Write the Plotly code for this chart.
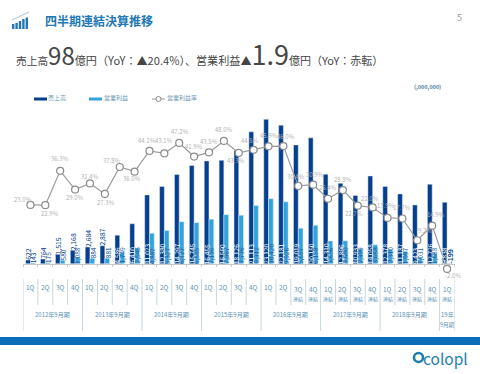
import plotly.graph_objects as go

FONT = "Noto Sans CJK JP"
W, H = 480, 374

quarters = ["1Q", "2Q", "3Q", "4Q"] * 7 + ["1Q"]
revenue = [622, 764, 1515, 2168, 2684, 2887, 4586, 6410, 11023, 12380, 14297, 15745, 16455, 16560,
           18126, 21113, 23120, 22181, 19019, 20150, 14310, 12896, 10933, 14058, 12378, 11187,
           9423, 12726, 9838]
op_profit = [143, 175, 580, 1088, 884, 881, 1749, 2545, 4887, 5327, 6727, 6585, 7135, 7867,
             7776, 9312, 10420, 9926, 5697, 6158, 3656, 3680, 2399, 3058, 2310, 1997,
             1031, 1688, -199]
op_margin = [23.0, 22.9, 36.3, 29.0, 31.4, 27.3, 37.8, 36.0, 44.1, 43.1, 47.2, 41.9, 43.5, 48.0,
             43.3, 44.5, 45.9, 46.0, 30.4, 30.9, 25.4, 28.8, 22.7, 22.0, 17.9, 17.7,
             9.2, 14.9, -2.0]
label_dx = [-7, 5, 0, 0, 0, 1, -8, -3, -2, 0, 1, 0, 0, 0, -3, -4, 0, 3, -2, 2, 0, 0, -4, -3, -2, 0, 8, 4, 6]
label_dy = [-5, 8, -12, 8, -7, 9, -7, 7, -10, -13, -11, -10, -11, -11, 8, -9, -11, -10, -9, -10, -11, -11, 8, -9, -12, -11, -10, -11, 7]
years = [("2012年9月期", 0, 4), ("2013年9月期", 4, 4), ("2014年9月期", 8, 4), ("2015年9月期", 12, 4),
         ("2016年9月期", 16, 4), ("2017年9月期", 20, 4), ("2018年9月期", 24, 4), ("19年", 28, 1)]
consolidated_from = 18

cats = list(range(len(revenue)))
DARK, LIGHT, TXT, LINE = "#053f8d", "#33a3dc", "#5d93b5", "#c7d6df"
fig = go.Figure()
fig.add_bar(x=cats, y=revenue, name="売上高", marker_color=DARK, yaxis="y")
fig.add_bar(x=cats, y=op_profit, name="営業利益", marker_color=LIGHT, yaxis="y")
fig.add_scatter(x=cats, y=op_margin, name="営業利益率", yaxis="y2", mode="lines+markers",
                line=dict(color="#9a9a9a", width=1.2),
                marker=dict(size=7, color="white", line=dict(color="#8c8c8c", width=1.2)),
                cliponaxis=False)

ann, shapes = [], []
def note(x, y, text, size=7, color=TXT, xref="paper", yref="paper", xanchor="center", yanchor="middle", **kw):
    ann.append(dict(x=x / W if xref == "paper" else x, y=1 - y / H if yref == "paper" else y, xref=xref, yref=yref,
                    xanchor=xanchor, yanchor=yanchor, borderpad=0, borderwidth=0,
                    text=text, showarrow=False, font=dict(size=size, color=color, family=FONT), **kw))
# value labels follow the data
for i, (r, p) in enumerate(zip(revenue, op_profit)):
    small = r < 3000
    note(i, r if small else 0, f"{r:,}", 6.8 if small else 6.5, DARK if small else "#ffffff", xref="x", yref="y",
         textangle=-90, yanchor="bottom", xshift=-2.5)
    if p < 0:
        note(i, 0, f"<b>{p:,}</b>", 6.8, DARK, xref="x", yref="y", textangle=-90, yanchor="bottom", xshift=3.5)
    else:
        small_p = p < 1000
        note(i, p if small_p else 0, f"{p:,}", 6.5, DARK if small_p else "#1d5d9b", xref="x", yref="y",
             textangle=-90, yanchor="bottom", xshift=2.5)
# margin labels follow the line
for i, v in enumerate(op_margin):
    note(i, v, f"{v:.1f}%", 6, "#b2b2b2", xref="x", yref="y2", xshift=label_dx[i], yshift=-label_dy[i])

# period table below the chart
T0, T1, T2 = 1 - 279 / H, 1 - 305 / H, 1 - 331 / H
def vline(b, ybot):
    shapes.append(dict(type="line", xref="x", yref="paper", x0=b, x1=b, y0=T0, y1=ybot, line=dict(color=LINE, width=1)))
for i, q in enumerate(quarters):
    if i >= consolidated_from:
        note(i, 288.7, q, 6.5, xref="x")
        note(i, 299, "連結", 5, xref="x")
    else:
        note(i, 287, q, 6.5, xref="x")
    if i % 4:
        vline(i - 0.5, T1)
for label, start, n in years:
    vline(start - 0.5, T2)
    note(start + (n - 1) / 2, 314, label, 6, xref="x")
note(28, 325, "9月期", 5.5, xref="x")
vline(28.5, T2)

def rect(x0, y0, x1, y1, color):
    shapes.append(dict(type="rect", xref="paper", yref="paper", x0=x0 / W, x1=x1 / W, y0=1 - y1 / H, y1=1 - y0 / H,
                       fillcolor=color, line_width=0, layer="below"))
rect(0, 337, W, 345, "#0b6dba")
# header icon
for k, top in enumerate([24, 23, 21, 19, 17.5]):
    rect(12 + k * 3.4, top, 14.4 + k * 3.4, 29, "#2377b5")
shapes.append(dict(type="line", xref="paper", yref="paper", x0=12 / W, x1=29 / W, y0=1 - 20 / H, y1=1 - 12 / H,
                   line=dict(color="#8fb6d2", width=0.8)))
note(45, 20.5, "<b>四半期連結決算推移</b>", 12, "#2278b5", xanchor="left")
note(459, 18, "5", 9, "#9a9a9a")
s = lambda t, z: f'<span style="font-size:{z}px">{t}</span>'
note(16, 53, s("売上高", 10.7) + s("98", 24) + s("億円（YoY：▲20.4%）、営業利益▲", 11.1) + s("1.9", 27) + s("億円（YoY：赤転）", 11),
     11, "#454545", xanchor="left")
note(427, 87.5, "<b>(,000,000)</b>", 5.5, "#4f83a5")
# manual legend
LEG = "#6f9bb8"
rect(34, 97.5, 47, 100.5, DARK)
note(48, 97.5, "売上高", 6, LEG, xanchor="left")
rect(89, 97.5, 102, 100.5, LIGHT)
note(104, 97.5, "営業利益", 6, LEG, xanchor="left")
shapes.append(dict(type="line", xref="paper", yref="paper", x0=152 / W, x1=165 / W, y0=1 - 99 / H, y1=1 - 99 / H,
                   line=dict(color="#9a9a9a", width=1)))
shapes.append(dict(type="circle", xref="paper", yref="paper", x0=156 / W, x1=161 / W, y0=1 - 101.5 / H, y1=1 - 96.5 / H,
                   fillcolor="white", line=dict(color="#8c8c8c", width=1)))
note(167, 97.5, "営業利益率", 6, LEG, xanchor="left")
# logo
note(423, 358, "colopl", 15.5, "#1f7fb0", xanchor="left")
shapes.append(dict(type="circle", xref="paper", yref="paper", x0=414 / W, x1=423 / W, y0=1 - 362 / H, y1=1 - 353 / H,
                   fillcolor="white", line=dict(color="#1f7fb0", width=2.6)))

fig.update_layout(
    width=W, height=H, margin=dict(l=0, r=0, t=0, b=0), autosize=False, paper_bgcolor="white", plot_bgcolor="rgba(0,0,0,0)",
    barmode="group", bargap=0.36, bargroupgap=0, showlegend=False,
    xaxis=dict(type="linear", domain=[23 / W, 454.5 / W], range=[-0.5, 28.5], anchor="free", position=1 - 263.8 / H,
               showgrid=False, zeroline=False, showline=True, linecolor="#c8c8c8", linewidth=1,
               ticks="outside", tickmode="array", tickvals=[i - 0.5 for i in range(30)], ticklen=2, tickcolor="#c8c8c8", showticklabels=False),
    yaxis=dict(domain=[1 - 280 / H, 1 - 100 / H], range=[-2592, 26208], visible=False),
    yaxis2=dict(overlaying="y", side="right", range=[-6.33, 63.98], visible=False),
    annotations=ann, shapes=shapes, font=dict(family=FONT),
)
fig.write_html("out.html", config=dict(displayModeBar=False),
               post_script="document.body.style.margin='0';document.body.style.overflow='hidden';")
